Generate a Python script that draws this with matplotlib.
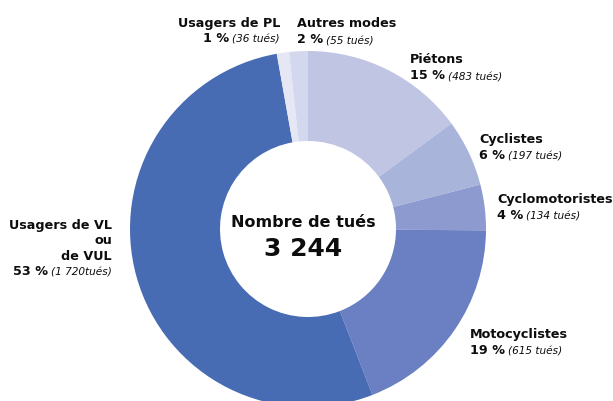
import matplotlib
matplotlib.use('Agg')
import matplotlib.pyplot as plt

# data
categories = ['Piétons', 'Cyclistes', 'Cyclomotoristes', 'Motocyclistes',
              'Usagers de VL\nou\nde VUL', 'Usagers de PL', 'Autres modes']
killed = [483, 197, 134, 615, 1720, 36, 55]
percents = ['15 %', '6 %', '4 %', '19 %', '53 %', '1 %', '2 %']
counts_txt = ['(483 tués)', '(197 tués)', '(134 tués)', '(615 tués)',
              '(1 720tués)', '(36 tués)', '(55 tués)']
total_txt = '3 244'
colors = ['#bfc5e3', '#a9b4da', '#8d9ad0', '#6b80c3', '#486cb4', '#e5e8f4', '#d4d8ee']

# label anchors (image pixels, baseline of first line) and alignment
label_pos = [(410, 63, 'left'), (479, 143, 'left'), (497, 203, 'left'),
             (470, 338, 'left'), (112, 229, 'right'), (280, 27, 'right'),
             (297, 27, 'left')]

W, H = 613, 402
fig = plt.figure(figsize=(W / 100, H / 100), dpi=100)
ax = fig.add_axes([0, 0, 1, 1])

cx, cy, r_out, r_in = 308, 230, 178, 88
ax.pie(killed, colors=colors, startangle=270, counterclock=True,
       center=(cx, cy), radius=r_out,
       wedgeprops=dict(width=r_out - r_in, linewidth=0))
ax.set_xlim(0, W)
ax.set_ylim(H, 0)
ax.set_aspect('equal')
ax.axis('off')

fam = 'DejaVu Sans'
ink = '#0d0d0d'
line_h = 15.5
for i, name in enumerate(categories):
    x, y, ha = label_pos[i]
    lines = name.split('\n')
    for j, ln in enumerate(lines):
        ax.text(x, y + j * line_h, ln, ha=ha, va='baseline', fontsize=9.2,
                fontweight='bold', family=fam, color=ink)
    yb = y + len(lines) * line_h + 0.5
    if ha == 'left':
        t = ax.text(x, yb, percents[i], ha='left', va='baseline', fontsize=9.2,
                    fontweight='bold', family=fam, color=ink)
        ax.annotate(counts_txt[i], xy=(1, 0), xycoords=t, xytext=(3, 0),
                    textcoords='offset pixels', ha='left', va='bottom',
                    fontsize=7.6, fontstyle='italic', family=fam, color=ink)
    else:
        t = ax.text(x, yb, counts_txt[i], ha='right', va='baseline', fontsize=7.6,
                    fontstyle='italic', family=fam, color=ink)
        ax.annotate(percents[i], xy=(0, 0), xycoords=t, xytext=(-3, 0),
                    textcoords='offset pixels', ha='right', va='bottom',
                    fontsize=9.2, fontweight='bold', family=fam, color=ink)

ax.text(303, 227, 'Nombre de tués', ha='center', va='baseline', fontsize=11.5,
        fontweight='bold', family=fam, color=ink)
ax.text(303, 256, total_txt, ha='center', va='baseline', fontsize=18,
        fontweight='bold', family=fam, color=ink)

fig.savefig('out.png', dpi=100, facecolor='white')
